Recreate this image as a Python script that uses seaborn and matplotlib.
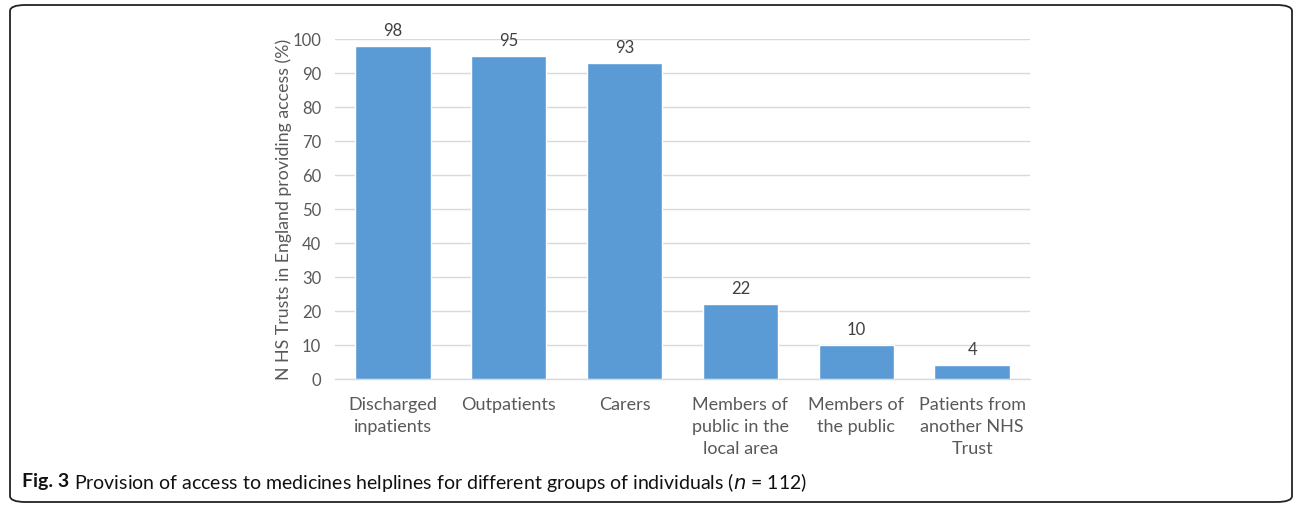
import matplotlib
matplotlib.use("Agg")
import matplotlib.pyplot as plt
import seaborn as sns
import pandas as pd
from matplotlib.patches import FancyBboxPatch

categories = ["Discharged\ninpatients", "Outpatients", "Carers",
              "Members of\npublic in the\nlocal area", "Members of\nthe public",
              "Patients from\nanother NHS\nTrust"]
values = [98, 95, 93, 22, 10, 4]
yticks = [0, 10, 20, 30, 40, 50, 60, 70, 80, 90, 100]

df = pd.DataFrame({"cat": categories, "val": values})

sns.set_theme(style="white")
plt.rcParams['font.family'] = ['Lato', 'DejaVu Sans']

fig = plt.figure(figsize=(12.95, 5.05), dpi=100)
ax = fig.add_axes([335/1295, 1-379/505, 695/1295, 340/505])

sns.barplot(data=df, x="cat", y="val", color="#5B9BD5", saturation=1,
            width=0.65, ax=ax, zorder=3)

ax.set_ylim(0, 100)
ax.set_yticks(yticks)
ax.set_xlim(-0.5, len(categories) - 0.5)
ax.yaxis.grid(True, color="#D9D9D9", linewidth=1, zorder=0)
ax.set_axisbelow(True)
for s in ["top", "right", "left"]:
    ax.spines[s].set_visible(False)
ax.spines["bottom"].set_color("#D9D9D9")
ax.spines["bottom"].set_linewidth(1)
ax.tick_params(axis="y", length=0, labelsize=12, labelcolor="#595959", pad=10)
ax.tick_params(axis="x", length=0, labelsize=13, labelcolor="#595959", pad=13)
for lbl in ax.get_xticklabels():
    lbl.set_linespacing(1.45)
ax.set_xlabel("")
ax.set_ylabel("N HS Trusts in England providing access (%)", fontsize=12.8,
              color="#595959", labelpad=0)

for c in ax.containers:
    ax.bar_label(c, labels=[str(v) for v in values], padding=5, fontsize=12, color="#404040")

# border box
box = FancyBboxPatch((10/1295, 3/505), 1282/1295, 497/505,
                     boxstyle="round,pad=0,rounding_size=0.012",
                     transform=fig.transFigure, fill=False, edgecolor="#222222",
                     linewidth=1.3)
fig.patches.append(box)

t1 = fig.text(22/1295, 1-482/505, "Fig. 3", fontsize=14, fontweight="bold",
              va="center", ha="left", color="#111111")
fig.canvas.draw()
bb = t1.get_window_extent()
fig.text((bb.x1 + 5)/1295, 1-482/505,
         "Provision of access to medicines helplines for different groups of individuals ($\\it{n}$ = 112)",
         fontsize=14, va="center", ha="left", color="#111111")

fig.savefig("out.png", dpi=100)
